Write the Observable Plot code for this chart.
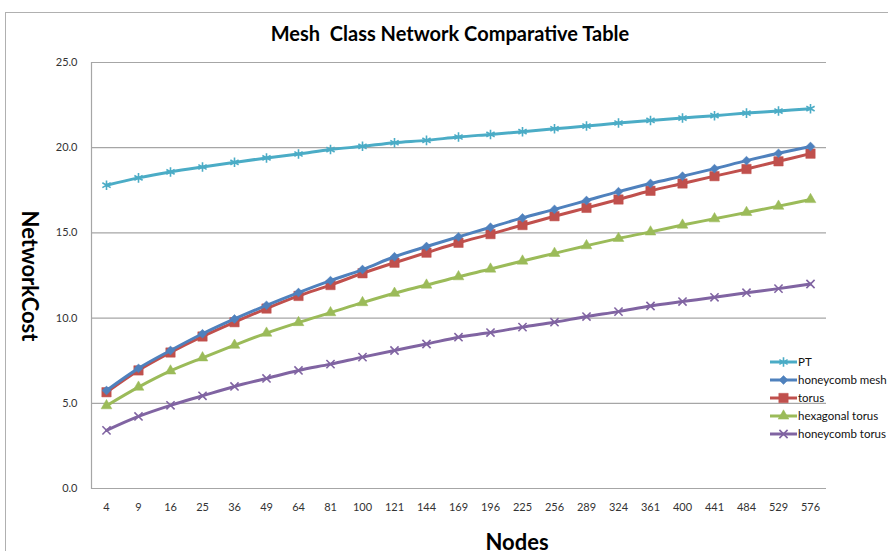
<!DOCTYPE html>
<html><head><meta charset="utf-8">
<script src="https://cdn.jsdelivr.net/npm/d3@7"></script>
<script src="https://cdn.jsdelivr.net/npm/@observablehq/plot@0.6"></script>
<style>
body{margin:0;background:#fff;font-family:Lato,"Open Sans",sans-serif;}
#wrap{position:relative;width:888px;height:551px;overflow:hidden;background:#fff;}
#border{position:absolute;left:5px;top:12px;width:900px;height:600px;border:1px solid #b0b0b0;box-sizing:border-box;}
#title{position:absolute;left:0;width:900px;top:21px;text-align:center;font-weight:bold;font-size:20px;white-space:pre;color:#000;}
#ylab{position:absolute;left:30px;top:276px;transform:translate(-50%,-50%) rotate(90deg);font-weight:bold;font-size:22px;white-space:nowrap;}
#xlab{position:absolute;left:517px;top:541px;transform:translate(-50%,-50%);font-weight:bold;font-size:22px;}
#chart{position:absolute;left:0;top:0;}
#legend{position:absolute;left:0;top:0;}
</style></head>
<body>
<div id="wrap">
<div id="border"></div>
<div id="chart"></div>
<div id="title">Mesh  Class Network Comparative Table</div>
<div id="ylab">NetworkCost</div>
<div id="xlab">Nodes</div>
<svg id="legend" width="888" height="551"></svg>
</div>
<script>
const nodes = ["4","9","16","25","36","49","64","81","100","121","144","169","196","225","256","289","324","361","400","441","484","529","576"];
const seriesNames = ["PT","honeycomb mesh","torus","hexagonal torus","honeycomb torus"];
const ptValues = [17.8,18.23,18.58,18.87,19.14,19.4,19.63,19.89,20.08,20.29,20.43,20.63,20.78,20.94,21.11,21.27,21.45,21.6,21.74,21.88,22.03,22.15,22.29];
const honeycombMesh = [5.75,7.05,8.1,9.08,9.95,10.75,11.5,12.2,12.85,13.6,14.2,14.77,15.33,15.88,16.38,16.9,17.42,17.9,18.33,18.77,19.24,19.67,20.07];
const torusValues = [5.65,6.93,7.98,8.92,9.76,10.56,11.3,11.94,12.63,13.25,13.84,14.42,14.93,15.46,15.98,16.47,16.96,17.47,17.9,18.33,18.75,19.2,19.65];
const hexTorus = [4.86,5.95,6.9,7.67,8.41,9.12,9.74,10.32,10.91,11.46,11.94,12.43,12.88,13.35,13.8,14.25,14.68,15.06,15.46,15.83,16.2,16.57,16.96];
const honeycombTorus = [3.41,4.23,4.88,5.44,5.99,6.46,6.93,7.3,7.71,8.1,8.48,8.88,9.15,9.47,9.76,10.09,10.38,10.71,10.97,11.22,11.49,11.73,12.0];
const yTicks = [0,5,10,15,20,25];

const colors = ["#4BACC6","#4F81BD","#C0504D","#9BBB59","#8064A2"];
const symbols = ["asterisk","diamond2","square","triangle","times"];
const radii = [4.5,4.0,5.3,4.0,3.8];
const filled = [false,true,true,true,false];
const values = [ptValues,honeycombMesh,torusValues,hexTorus,honeycombTorus];

const data = [];
seriesNames.forEach((s,i)=>nodes.forEach((n,j)=>data.push({series:s,node:n,value:values[i][j],idx:i})));

const marks = [
  Plot.ruleY(yTicks,{stroke:"#a6a6a6",strokeWidth:1.2}),
  Plot.frame({anchor:"left",stroke:"#a6a6a6",strokeWidth:1.2}),
  Plot.axisY({ticks:yTicks,tickFormat:d3.format(".1f"),tickSize:0,tickPadding:14,fontSize:11,fill:"#333",label:null}),
  Plot.axisX({tickSize:0,tickPadding:15,fontSize:11,fill:"#333",label:null})
];
[4,3,2,1,0].forEach(i=>{
  const d = data.filter(r=>r.idx===i);
  marks.push(Plot.line(d,{x:"node",y:"value",stroke:colors[i],strokeWidth:3,curve:"catmull-rom"}));
  marks.push(Plot.dot(d,{x:"node",y:"value",symbol:symbols[i],r:radii[i],
    fill:filled[i]?colors[i]:"none",stroke:colors[i],strokeWidth:filled[i]?0.5:1.6}));
});

const chart = Plot.plot({
  width:888,height:551,
  marginLeft:91,marginRight:62,marginTop:62,marginBottom:63,
  style:{fontFamily:"Lato, 'Open Sans', sans-serif",background:"transparent",color:"#333"},
  x:{type:"point",domain:nodes,range:[106,810],padding:0,axis:null},
  y:{domain:[0,25],axis:null},
  marks
});
document.getElementById("chart").appendChild(chart);

// legend
const lg = d3.select("#legend");
const rowY = [362,380,398,416,434];
seriesNames.forEach((s,i)=>{
  const g = lg.append("g");
  g.append("line").attr("x1",770).attr("x2",797).attr("y1",rowY[i]).attr("y2",rowY[i])
    .attr("stroke",colors[i]).attr("stroke-width",3);
  const sym = {asterisk:d3.symbolAsterisk,diamond2:d3.symbolDiamond2,square:d3.symbolSquare,triangle:d3.symbolTriangle,times:d3.symbolTimes}[symbols[i]];
  g.append("path").attr("d",d3.symbol(sym, Math.PI*radii[i]*radii[i])())
    .attr("transform",`translate(783.5,${rowY[i]})`)
    .attr("fill",filled[i]?colors[i]:"none").attr("stroke",colors[i]).attr("stroke-width",filled[i]?0.5:1.6);
  g.append("text").attr("x",798).attr("y",rowY[i]).attr("dy","0.35em")
    .attr("font-size",11.5).attr("font-family","Lato, 'Open Sans', sans-serif").attr("fill","#111").text(s);
});
</script>
</body></html>
